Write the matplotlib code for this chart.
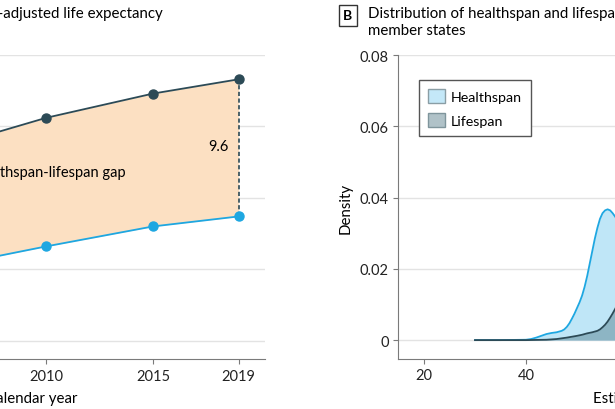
import matplotlib
matplotlib.use("Agg")
import matplotlib.pyplot as plt
from matplotlib.patches import Patch

# panel A: global lifespan vs health-adjusted life expectancy (years)
years = [2000, 2005, 2010, 2015, 2019]
lifespan = [66.8, 68.4, 70.6, 72.3, 73.3]
healthspan = [58.3, 60.1, 61.6, 63.0, 63.7]
year_ticks = [2000, 2005, 2010, 2015, 2019]
a_yticks = [55, 60, 65, 70, 75]

# panel B: density of estimated years across member states
hs_x = [30, 35, 40, 41, 42, 43, 44, 45, 46, 47, 47.5, 48, 48.5, 49, 49.5, 50, 50.5,
        51, 51.5, 52, 52.5, 53, 53.5, 54, 54.5, 55, 55.5, 56, 56.5, 57, 57.5, 58, 59, 60]
hs_d = [0, 0, 0.0001, 0.0003, 0.0007, 0.0012, 0.0017, 0.0020, 0.0022, 0.0026, 0.0030,
        0.0037, 0.0047, 0.0060, 0.0074, 0.0090, 0.0106, 0.0125, 0.0150, 0.0180, 0.0215,
        0.0250, 0.0285, 0.0315, 0.0340, 0.0356, 0.0364, 0.0367, 0.0364, 0.0356, 0.0346,
        0.0335, 0.0310, 0.0280]
ls_x = [30, 40, 44, 46, 48, 50, 51, 52, 53, 54, 54.5, 55, 55.5, 56, 56.5, 57, 57.5, 58, 59, 60]
ls_d = [0, 0, 0.0001, 0.0003, 0.0007, 0.0012, 0.0015, 0.0019, 0.0022, 0.0026, 0.0030,
        0.0036, 0.0043, 0.0052, 0.0063, 0.0075, 0.0088, 0.0102, 0.0130, 0.0160]
b_yticks = [0, 0.02, 0.04, 0.06, 0.08]
b_ylabels = ["0", "0.02", "0.04", "0.06", "0.08"]
b_xticks = [20, 40, 60, 80]

DARK = "#2c4a56"
BLUE = "#1ea7e1"
PEACH = "#fce0c2"
LBLUE = "#bfe6f7"
SPINE = "#7a7a7a"
GRID = "#e3e3e3"

plt.rcParams["font.family"] = ["Lato", "DejaVu Sans"]
plt.rcParams["font.size"] = 10.5

W, H = 615, 410
fig = plt.figure(figsize=(W / 100, H / 100), dpi=100)


def box(l, r, t, b):
    return [l / W, 1 - b / H, (r - l) / W, (b - t) / H]


# ---- panel A
ax = fig.add_axes(box(-185, 265, 56, 360))
ax.fill_between(years, healthspan, lifespan, color=PEACH, lw=0, zorder=1)
ax.plot(years, lifespan, "-o", color=DARK, lw=1.3, ms=6.5, zorder=3)
ax.plot(years, healthspan, "-o", color=BLUE, lw=1.3, ms=6.5, zorder=3)
ax.plot([years[-1], years[-1]], [healthspan[-1], lifespan[-1]], ls=(0, (2.5, 1.5)),
        color=DARK, lw=1.2, zorder=2)
ax.text(2018.55, 68.6, "%.1f" % (lifespan[-1] - healthspan[-1]), ha="right", va="center")
ax.text(2013.7, 66.8, "Healthspan-lifespan gap", ha="right", va="center")
ax.set_xlim(1999.21, 2020.23)
ax.set_ylim(53.72, 75)
ax.set_xticks(year_ticks)
ax.set_yticks(a_yticks)
ax.grid(axis="y", color=GRID, lw=1, zorder=0)
ax.set_axisbelow(True)
for s in ["top", "right", "left"]:
    ax.spines[s].set_visible(False)
ax.spines["bottom"].set_color(SPINE)
ax.tick_params(axis="x", colors="#222222", color=SPINE, length=3.5, pad=4)
ax.tick_params(axis="y", left=False, labelleft=False)

fig.text(163 / W, 1 - 14 / H, "Global lifespan and healthspan-adjusted life expectancy",
         ha="right", va="center", fontsize=10.8)
fig.text(77 / W, 1 - 399 / H, "Calendar year", ha="right", va="center", fontsize=10.8)

# ---- panel B
bx = fig.add_axes(box(398, 806.5, 56, 360))
bx.fill_between(hs_x, hs_d, color=LBLUE, lw=0, zorder=1)
bx.plot(hs_x, hs_d, color=BLUE, lw=1.3, zorder=2)
bx.fill_between(ls_x, ls_d, color="#6d95a3", alpha=0.6, lw=0, zorder=3)
bx.plot(ls_x, ls_d, color=DARK, lw=1.3, zorder=4)
bx.set_xlim(14.9, 95)
bx.set_ylim(-0.0053, 0.08)
bx.set_yticks(b_yticks)
bx.set_yticklabels(b_ylabels)
bx.set_xticks(b_xticks)
bx.grid(axis="y", color=GRID, lw=1, zorder=0)
bx.set_axisbelow(True)
for s in ["top", "right"]:
    bx.spines[s].set_visible(False)
for s in ["left", "bottom"]:
    bx.spines[s].set_color(SPINE)
bx.tick_params(colors="#222222", color=SPINE, length=3.5, pad=3)
bx.set_ylabel("Density", fontsize=10.8, labelpad=5)

handles = [Patch(facecolor="#c4e8f8", edgecolor="#8a9ea5", label="Healthspan"),
           Patch(facecolor="#b0c2c8", edgecolor="#7f959c", label="Lifespan")]
fig.legend(handles=handles, loc="upper left", bbox_to_anchor=(419 / W, 1 - 81 / H),
           bbox_transform=fig.transFigure, borderaxespad=0, fancybox=False,
           edgecolor="#555555", framealpha=1, handlelength=1.15, handleheight=1.15,
           labelspacing=0.65, borderpad=0.65, handletextpad=0.4, fontsize=10.3)

fig.text(348 / W, 1 - 16.5 / H, "B", ha="center", va="center", fontweight="bold",
         fontsize=10,
         bbox=dict(boxstyle="square,pad=0.3", facecolor="white", edgecolor="#333333", lw=1))
fig.text(368 / W, 1 - 14 / H, "Distribution of healthspan and lifespan across 183 WHO",
         ha="left", va="center", fontsize=10.8)
fig.text(368 / W, 1 - 31 / H, "member states", ha="left", va="center", fontsize=10.8)
fig.text(593 / W, 1 - 399 / H, "Estimated years", ha="left", va="center", fontsize=10.8)

fig.savefig("out.png", dpi=100)
